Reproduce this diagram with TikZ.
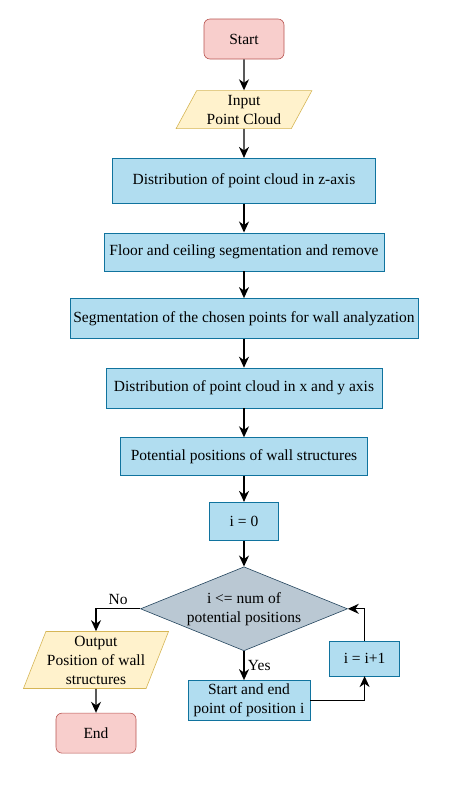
\documentclass[tikz,border=0pt]{standalone}
\usepackage{fontspec}
\setmainfont{Liberation Serif}
\usetikzlibrary{positioning}
\usetikzlibrary{shapes.geometric}
\usetikzlibrary{arrows.meta}
\definecolor{termfill}{HTML}{F8CECC}
\definecolor{termline}{HTML}{B85450}
\definecolor{iofill}{HTML}{FFF2CC}
\definecolor{ioline}{HTML}{D6B656}
\definecolor{procfill}{HTML}{B1DDF0}
\definecolor{procline}{HTML}{10739E}
\definecolor{decfill}{HTML}{BAC8D3}
\definecolor{decline}{HTML}{23445D}

\begin{document}
\begin{tikzpicture}[x=1pt,y=-1pt,node distance=29pt,line width=0.6pt,
  every node/.style={font=\fontsize{15.5}{19}\selectfont,align=center},
  term/.style={draw=termline,fill=termfill,rounded corners=6pt,minimum width=80pt,minimum height=40pt},
  io/.style={draw=ioline,fill=iofill,trapezium,trapezium left angle=62,trapezium right angle=118,trapezium stretches=true,inner sep=1pt},
  proc/.style={draw=procline,fill=procfill,minimum height=40pt},
  decide/.style={draw=decline,fill=decfill,diamond,aspect=2.46,inner sep=0pt,minimum width=207pt,minimum height=84pt},
  flow/.style={-{Stealth[length=11pt,width=10pt,inset=3.5pt]},line width=1.3pt}]
  \useasboundingbox (0,0) rectangle (474,788);
  \node[term] (start) at (244,39) {Start};
  \node[io,below=31pt of start,minimum width=136pt,minimum height=38pt] (input) {Input\\Point Cloud};
  \node[proc,below= of input,minimum width=263pt,minimum height=45pt] (zdist) {Distribution of point cloud in z-axis};
  \node[proc,below= of zdist,minimum width=280pt,minimum height=38pt] (floor) {Floor and ceiling segmentation and remove};
  \node[proc,below=27pt of floor,minimum width=347pt] (wallseg) {Segmentation of the chosen points for wall analyzation};
  \node[proc,below= of wallseg,minimum width=276pt] (xydist) {Distribution of point cloud in x and y axis};
  \node[proc,below= of xydist,minimum width=247pt,minimum height=38pt] (potential) {Potential positions of wall structures};
  \node[proc,below=26pt of potential,minimum width=69pt,minimum height=38pt] (init) {i = 0};
  \node[decide,below=26pt of init] (check) {i <= num of\\potential positions};
  \node[proc,below=29pt of check,xshift=5pt,minimum width=122pt] (pos) {Start and end\\point of position i};
  \node[proc,above right=4pt and 19pt of pos,minimum width=70pt,minimum height=35pt] (incr) {i = i+1};
  \node[io,trapezium left angle=66,trapezium right angle=114,minimum width=144pt,minimum height=57pt] (output) at (96,660) {Output\\Position of wall\\structures};
  \node[term,below=24pt of output] (end) {End};
  \draw[flow] (start) -- (input);
  \draw[flow] (input) -- (zdist);
  \draw[flow] (zdist) -- (floor);
  \draw[flow] (floor) -- (wallseg);
  \draw[flow] (wallseg) -- (xydist);
  \draw[flow] (xydist) -- (potential);
  \draw[flow] (potential) -- (init);
  \draw[flow] (init) -- (check);
  \draw[flow] (check.south) -- node[right]{Yes} (check.south |- pos.north);
  \draw[flow] (pos.east) -| (incr.south);
  \draw[flow] (incr.north) |- (check.east);
  \draw[flow] (check.west) -| node[pos=0.25,above]{No} (output.north);
  \draw[flow] (output) -- (end);
\end{tikzpicture}
\end{document}
